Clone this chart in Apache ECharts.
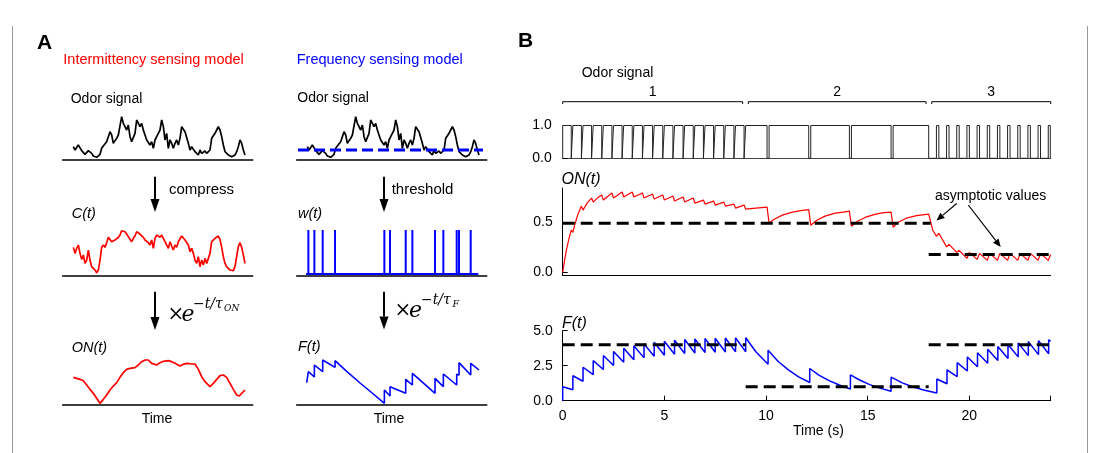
<!DOCTYPE html>
<html><head><meta charset="utf-8">
<script src="https://cdn.jsdelivr.net/npm/echarts@6/dist/echarts.min.js"></script>
<style>html,body{margin:0;padding:0;background:#fff}#c{width:1099px;height:453px}</style>
</head><body><div id="c"></div>
<script>
// ---------- Panel A data (arbitrary time units, arbitrary amplitude units) ----------
const odorA = [40,30,33,45,40,28,22,17,22,28,32,20,12,9,8,12,17,35,42,42,55,70,85,75,50,58,65,75,80,130,110,115,90,105,70,55,50,80,120,125,100,110,90,75,60,65,45,55,35,60,70,80,90,120,100,60,80,35,60,50,35,50,60,45,65,100,105,85,90,50,30,40,45,25,20,15,30,20,25,27,20,25,30,65,70,80,90,100,90,70,45,25,20,15,10,10,10,15,25,40,60,50,30,15];
const compressA = [85,67,82,92,67,49,62,37,47,77,47,27,22,17,9,17,47,85,92,85,99,115,119,102,97,107,109,115,122,135,129,132,125,122,109,102,112,119,132,129,125,119,115,107,102,99,92,107,82,112,122,125,115,122,112,102,107,82,102,89,77,92,85,102,107,119,122,107,112,92,72,82,67,47,37,57,27,47,32,52,37,42,67,102,107,112,115,119,109,85,57,37,27,22,17,12,15,27,57,87,99,85,62,37];
const onA = [[0,83],[2,80],[4,77],[6,73],[8,60],[10,47],[12,35],[14,20],[16,5],[17,7],[18,17],[20,30],[22,45],[24,57],[26,67],[28,83],[30,97],[32,107],[34,110],[37,112],[39,120],[41,130],[43,135],[45,135],[47,125],[50,120],[52,127],[54,131],[57,133],[59,130],[61,125],[64,117],[66,122],[68,125],[71,123],[73,123],[75,107],[77,85],[79,70],[82,55],[84,65],[86,77],[88,88],[90,90],[92,83],[94,65],[96,47],[98,30],[99.6,27],[101,35],[103,45]];
const thresholdA = 30;
const spikeTimesA = [0.6,4.2,9.2,16.6,46.2,49.6,59,63,76.6,81.6,89.6,91,98];
const freqA = [[-0.4,67],[0.6,64],[0.6,100],[4.2,84],[4.2,120],[9.2,100],[9.2,135],[16.6,113],[16.6,133],[23.6,101],[31.6,66],[39.6,33],[46.2,5],[46.2,45],[49.6,27],[49.6,55],[59,35],[59,77],[63,60],[63,95],[70,64],[76.6,35],[76.6,80],[81.6,55],[81.6,93],[89.6,60],[89.6,92],[91,90],[91,127],[98,90],[98,125],[103,105]];

// ---------- Panel B data (time in s) ----------
const pulseStart = [0,0.5,1,1.5,2,2.5,3,3.5,4,4.5,5,5.5,6,6.5,7,7.5,8,8.5,9.0,10.15,12.2,14.2,16.25,18.38,18.88,19.38,19.88,20.38,20.88,21.38,21.88,22.38,22.88,23.38,23.88];
const pulseEnd   = [0.42,0.92,1.42,1.92,2.42,2.92,3.42,3.92,4.42,4.92,5.42,5.92,6.42,6.92,7.42,7.92,8.42,8.92,10.05,12.1,14.1,16.15,18.0,18.5,19.0,19.5,20.0,20.5,21.0,21.5,22.0,22.5,23.0,23.5,23.98];
const onB = [[0,0],[0.1,0.13],[0.2,0.24],[0.3,0.33],[0.42,0.42],[0.5,0.40],[0.6,0.48],[0.75,0.58],[0.92,0.66],[1.0,0.62],[1.2,0.69],[1.42,0.74],[1.5,0.70],[1.7,0.74],[1.92,0.77],[2.0,0.72],[2.42,0.79],[2.5,0.74],[2.92,0.80],[3.0,0.75],[3.42,0.80],[3.5,0.75],[3.92,0.79],[4.0,0.74],[4.42,0.78],[4.5,0.73],[4.92,0.77],[5.0,0.72],[5.42,0.76],[5.5,0.71],[5.92,0.75],[6.0,0.70],[6.42,0.74],[6.5,0.69],[6.92,0.72],[7.0,0.68],[7.42,0.71],[7.5,0.67],[7.92,0.70],[8.0,0.66],[8.42,0.68],[8.5,0.64],[8.92,0.67],[9.0,0.63],[9.5,0.64],[10.05,0.65],[10.15,0.49],[10.4,0.53],[10.8,0.57],[11.3,0.60],[11.7,0.615],[12.1,0.625],[12.2,0.47],[12.5,0.52],[12.9,0.56],[13.4,0.59],[13.8,0.60],[14.1,0.61],[14.2,0.46],[14.5,0.51],[14.9,0.55],[15.4,0.58],[15.8,0.595],[16.15,0.60],[16.25,0.45],[16.5,0.50],[16.9,0.54],[17.4,0.565],[18.0,0.58],[18.1,0.50],[18.2,0.42],[18.38,0.36],[18.5,0.39],[18.88,0.255],[19.0,0.28],[19.38,0.20],[19.5,0.22],[19.88,0.14],[20.0,0.20],[20.38,0.13],[20.5,0.19],[20.88,0.12],[21.0,0.19],[21.38,0.12],[21.5,0.19],[21.88,0.12],[22.0,0.19],[22.38,0.12],[22.5,0.19],[22.88,0.12],[23.0,0.19],[23.38,0.12],[23.5,0.19],[23.88,0.12],[24.0,0.18]];
const fB = [[0,0],[0,1.0],[0.5,0.78],[0.5,1.78],[1.0,1.39],[1.0,2.39],[1.5,1.86],[1.5,2.86],[2.0,2.23],[2.0,3.23],[2.5,2.52],[2.5,3.52],[3.0,2.75],[3.0,3.75],[3.5,2.92],[3.5,3.92],[4.0,3.06],[4.0,4.06],[4.5,3.17],[4.5,4.17],[5.0,3.25],[5.0,4.25],[5.5,3.32],[5.5,4.32],[6.0,3.37],[6.0,4.37],[6.5,3.41],[6.5,4.41],[7.0,3.44],[7.0,4.44],[7.5,3.46],[7.5,4.46],[8.0,3.48],[8.0,4.48],[8.5,3.49],[8.5,4.49],[9.0,3.50],[9.0,4.50],[9.5,3.50],[10.1,2.6],[10.1,3.6],[10.6,2.8],[11.1,2.2],[11.6,1.7],[12.15,1.3],[12.15,2.3],[12.6,1.83],[13.1,1.43],[13.6,1.12],[14.15,0.84],[14.15,1.84],[14.6,1.48],[15.1,1.15],[15.6,0.9],[16.15,0.68],[16.15,1.68],[16.7,1.27],[17.2,1.0],[17.8,0.75],[18.4,0.55],[18.4,1.55],[18.9,1.21],[18.9,2.21],[19.4,1.72],[19.4,2.72],[19.9,2.12],[19.9,3.12],[20.4,2.43],[20.4,3.43],[20.9,2.68],[20.9,3.68],[21.4,2.87],[21.4,3.87],[21.9,3.02],[21.9,4.02],[22.4,3.13],[22.4,4.13],[22.9,3.22],[22.9,4.22],[23.4,3.29],[23.4,4.29],[23.9,3.35],[23.9,4.35],[24.0,4.25]];
const onAsymStart = [0, 18.0], onAsymEnd = [18.1, 24], onAsymVal = [0.49, 0.18];
const fAsymStart = [0, 9, 18], fAsymEnd = [9, 18, 24], fAsymVal = [4.0, 1.0, 4.0];
const bracketStart = [0, 9.13, 18.15], bracketEnd = [8.85, 17.87, 24.0], bracketLabels = ['1','2','3'];
const xTicksB = [0,5,10,15,20];

// ---------- build ----------
const FONT = 'Liberation Sans, Arial, sans-serif';
const RED = '#ff0000', BLUE = '#0000ff';
const chart = echarts.init(document.getElementById('c'), null, {renderer:'canvas', width:1099, height:453});
const LX = 62.67, RX = 296.7, AW = 190, BX = 562.7, BW = 488;
const grids = [
  {left:LX, top:110, width:AW, height:50},
  {left:RX, top:110, width:AW, height:50},
  {left:LX, top:225.7, width:AW, height:50},
  {left:RX, top:225.7, width:AW, height:50},
  {left:LX, top:355, width:AW, height:50},
  {left:RX, top:355, width:AW, height:50},
  {left:BX, top:101.7, width:BW, height:2.3},
  {left:BX, top:125.5, width:BW, height:32.8},
  {left:BX, top:188, width:BW, height:87.5},
  {left:BX, top:330.7, width:BW, height:70}
];
const xAxes = [], yAxes = [];
for (let i = 0; i < 6; i++) {
  xAxes.push({gridIndex:i, type:'value', min:-6.4, max:107.6, axisLine:{show:true, onZero:false, lineStyle:{color:'#000', width:1.6}}, axisTick:{show:false}, axisLabel:{show:false}, splitLine:{show:false}});
  yAxes.push({gridIndex:i, type:'value', min: i===3 ? -0.04 : 0, max: i===3 ? 1.1 : 150, show:false, splitLine:{show:false}});
}
const lbl = {color:'#000', fontSize:14, fontFamily:FONT};
xAxes.push({gridIndex:6, type:'value', min:0, max:24, show:false});
yAxes.push({gridIndex:6, type:'value', min:0, max:1, show:false});
xAxes.push({gridIndex:7, type:'value', min:0, max:24, axisLine:{show:true, onZero:false, lineStyle:{color:'#444', width:1}}, axisTick:{show:false}, axisLabel:{show:false}, splitLine:{show:false}});
yAxes.push({gridIndex:7, type:'value', min:0, max:1, interval:1, axisLine:{show:false}, axisTick:{show:true, inside:true, length:5, lineStyle:{color:'#000'}}, axisLabel:Object.assign({margin:11, formatter:v=>v.toFixed(1)}, lbl), splitLine:{show:false}});
xAxes.push({gridIndex:8, type:'value', min:0, max:24, axisLine:{show:true, onZero:false, lineStyle:{color:'#000', width:1}}, axisTick:{show:false}, axisLabel:{show:false}, splitLine:{show:false}});
yAxes.push({gridIndex:8, type:'value', min:-0.03, max:0.84, axisLine:{show:true, lineStyle:{color:'#000', width:1}}, axisTick:{show:true, inside:true, length:5, customValues:[0,0.5], lineStyle:{color:'#000'}}, axisLabel:Object.assign({margin:10, customValues:[0,0.5], formatter:v=>v.toFixed(1)}, lbl), splitLine:{show:false}});
xAxes.push({gridIndex:9, type:'value', min:0, max:24, interval:5, axisLine:{show:true, onZero:false, lineStyle:{color:'#000', width:1}}, axisTick:{show:true, inside:true, length:5, lineStyle:{color:'#000'}}, axisLabel:Object.assign({margin:8, customValues:xTicksB}, lbl), splitLine:{show:false}});
yAxes.push({gridIndex:9, type:'value', min:0, max:5, interval:2.5, axisLine:{show:true, lineStyle:{color:'#000', width:1}}, axisTick:{show:true, inside:true, length:5, lineStyle:{color:'#000'}}, axisLabel:Object.assign({margin:10, formatter:v=>v.toFixed(1)}, lbl), splitLine:{show:false}});

function ln(idx, data, color, width, extra) {
  return Object.assign({type:'line', xAxisIndex:idx, yAxisIndex:idx, data:data, showSymbol:false, symbol:'none', silent:true, animation:false, clip:false,
    lineStyle:{color:color, width:width}}, extra || {});
}
const series = [];
series.push(ln(0, odorA.map((v,i)=>[i,v]), '#000', 1.7));
series.push(ln(1, odorA.map((v,i)=>[i,v]), '#000', 1.7));
series.push(ln(1, [[-5.6,thresholdA],[105.4,thresholdA]], BLUE, 3.2, {lineStyle:{color:BLUE, width:3.2, type:[11,5]}, z:5}));
series.push(ln(2, compressA.map((v,i)=>[i,v]), RED, 1.7));
const wData = [[-0.8,0]];
spikeTimesA.forEach(t => { wData.push([t,0],[t,1],[t,0]); });
wData.push([102.6,0]);
series.push(ln(3, wData, BLUE, 2));
series.push(ln(4, onA, RED, 1.7));
series.push(ln(5, freqA, BLUE, 1.6));
bracketStart.forEach((s,i) => series.push(ln(6, [[s,0],[s,1],[bracketEnd[i],1],[bracketEnd[i],0]], '#000', 1)));
const odorB = [];
pulseStart.forEach((s,i) => { odorB.push([s,0],[s,1],[pulseEnd[i],1],[pulseEnd[i],0]); });
odorB.push([24,0]);
series.push(ln(7, odorB, '#222', 1));
series.push(ln(8, onB, RED, 1.2));
onAsymVal.forEach((v,i) => series.push(ln(8, [[onAsymStart[i],v],[onAsymEnd[i],v]], '#000', 3, {lineStyle:{color:'#000', width:3, type:[12,6]}, z:5})));
series.push(ln(9, fB, BLUE, 1.5));
fAsymVal.forEach((v,i) => series.push(ln(9, [[fAsymStart[i],v],[fAsymEnd[i],v]], '#000', 3, {lineStyle:{color:'#000', width:3, type:[12,6]}, z:5})));

chart.setOption({animation:false, grid:grids, xAxis:xAxes, yAxis:yAxes, series:series});

// ---------- annotations ----------
function txt(x, y, s, size, opt) {
  opt = opt || {};
  return {type:'text', x:x, y:y, silent:true, z:100, style:{text:s, fill:opt.color||'#000', font:(opt.style||'normal')+' '+(opt.weight||'normal')+' '+size+'px '+(opt.family||FONT), textAlign:opt.align||'left', textVerticalAlign:'middle'}};
}
function arrow(x1, y1, x2, y2, w, headL, headW) {
  const dx = x2-x1, dy = y2-y1, L = Math.hypot(dx,dy), ux = dx/L, uy = dy/L;
  const bx = x2 - ux*headL, by = y2 - uy*headL;
  return [
    {type:'line', silent:true, z:100, shape:{x1:x1, y1:y1, x2:bx, y2:by}, style:{stroke:'#000', lineWidth:w}},
    {type:'polygon', silent:true, z:100, shape:{points:[[x2,y2],[bx - uy*headW, by + ux*headW],[bx + uy*headW, by - ux*headW]]}, style:{fill:'#000'}}
  ];
}
const SERIF = 'DejaVu Serif, serif';
let g = [
  {type:'line', silent:true, z:90, shape:{x1:12.5, y1:26, x2:12.5, y2:453}, style:{stroke:'#999', lineWidth:1}},
  {type:'line', silent:true, z:90, shape:{x1:1087.5, y1:26, x2:1087.5, y2:453}, style:{stroke:'#999', lineWidth:1}},
  txt(37, 43, 'A', 21, {weight:'bold'}),
  txt(518, 41, 'B', 21, {weight:'bold'}),
  txt(63.3, 59.5, 'Intermittency sensing model', 14.5, {color:RED}),
  txt(296.7, 59.5, 'Frequency sensing model', 14.5, {color:BLUE}),
  txt(70.7, 99, 'Odor signal', 14),
  txt(297.3, 98.5, 'Odor signal', 14),
  txt(169, 189.5, 'compress', 15),
  txt(391.7, 189.5, 'threshold', 15),
  txt(71.7, 213.5, 'C(t)', 14.5, {style:'italic'}),
  txt(298, 213.5, 'w(t)', 14.5, {style:'italic'}),
  txt(71.7, 348, 'ON(t)', 14.5, {style:'italic'}),
  txt(298, 347, 'F(t)', 14.5, {style:'italic'}),
  txt(157, 419.5, 'Time', 14, {align:'center'}),
  txt(389, 419.5, 'Time', 14, {align:'center'}),
  txt(167.5, 315, '\u00d7', 20, {family:SERIF}),
  txt(181.5, 315, 'e', 22, {style:'italic', family:SERIF}),
  txt(193, 304, '\u2212t/\u03c4', 14, {style:'italic', family:SERIF}),
  txt(224, 309, 'ON', 9, {style:'italic', family:SERIF}),
  txt(394.5, 311, '\u00d7', 20, {family:SERIF}),
  txt(409, 311, 'e', 22, {style:'italic', family:SERIF}),
  txt(421, 300, '\u2212t/\u03c4', 14, {style:'italic', family:SERIF}),
  txt(452.5, 305, 'F', 9.5, {style:'italic', family:SERIF}),
  txt(581.7, 73.5, 'Odor signal', 14),
  txt(561.5, 179.5, 'ON(t)', 16, {style:'italic'}),
  txt(562, 324, 'F(t)', 16, {style:'italic'}),
  txt(935, 196, 'asymptotic values', 14),
  txt(793, 431, 'Time (s)', 14)
];
g = g.concat(arrow(155, 176.7, 155, 212, 2, 13, 4.5));
g = g.concat(arrow(155, 291.7, 155, 330, 2, 13, 4.5));
g = g.concat(arrow(384, 176.7, 384, 212, 2, 13, 4.5));
g = g.concat(arrow(384, 291.7, 384, 329.5, 2, 13, 4.5));
g = g.concat(arrow(956.7, 203.5, 936.5, 220.5, 1.2, 8, 3.5));
g = g.concat(arrow(968.3, 205, 1000.7, 247, 1.2, 8, 3.5));
bracketLabels.forEach((s,i) => {
  const p = chart.convertToPixel({gridIndex:6}, [(bracketStart[i]+bracketEnd[i])/2, 1]);
  g.push(txt(p[0], p[1]-10, s, 14, {align:'center'}));
});
chart.setOption({graphic:{elements:g}});
</script></body></html>
